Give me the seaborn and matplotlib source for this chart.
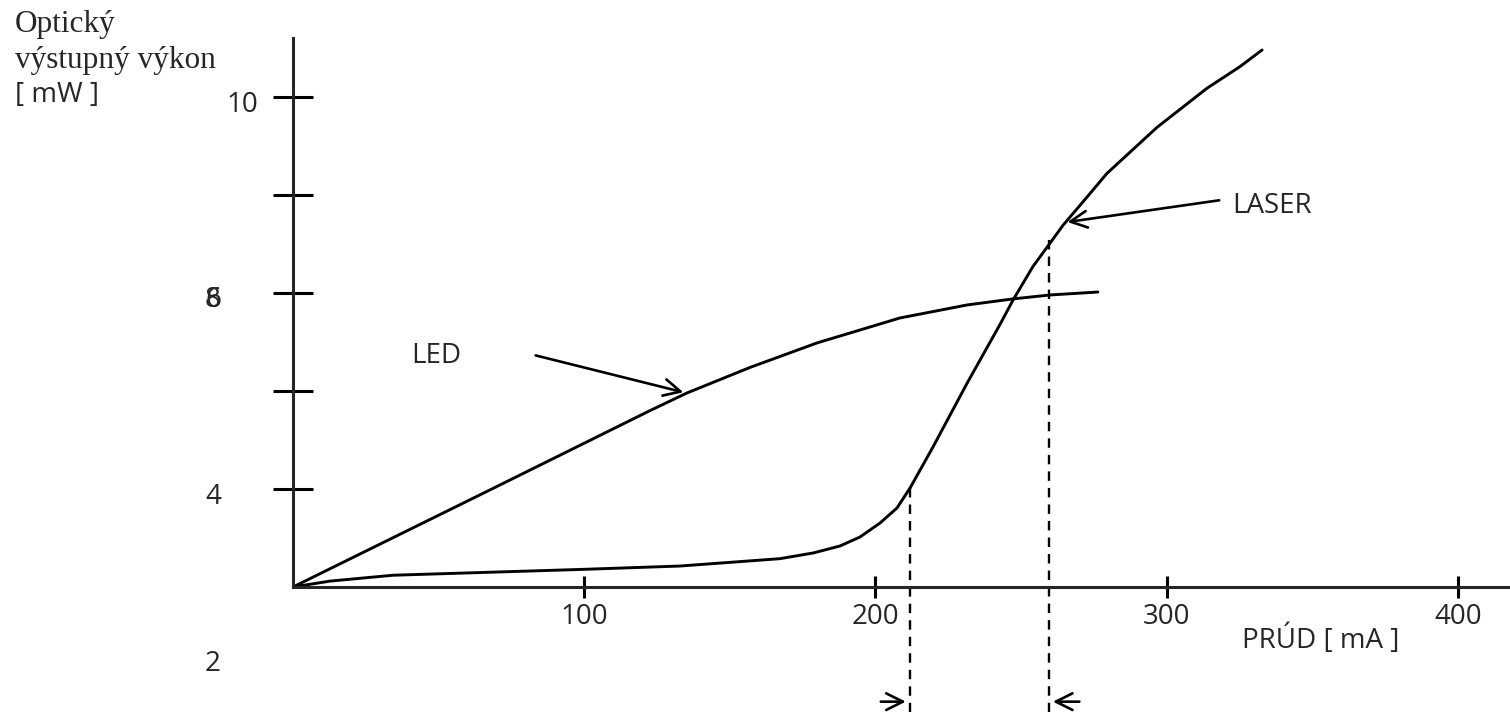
import numpy as np
import pandas as pd
import seaborn as sns
import matplotlib.pyplot as plt

# current [mA] and optical power (in axis tick steps, as drawn)
led_current = [0, 67.6, 122.6, 135.3, 156.9, 179.9, 208.4, 231.5, 247.3, 260, 276.4]
led_power = [0, 0.99, 1.80, 1.98, 2.24, 2.49, 2.745, 2.878, 2.94, 2.98, 3.01]

laser_current = [0, 12.7, 34.3, 99.6, 132.9, 167.2, 178.6, 187.8, 194.7, 201.6, 207.4, 211.9,
                 219.8, 231.5, 242.8, 247.3, 254.1, 260.0, 264.4, 272.7, 279.5,
                 296.7, 313.9, 325.2, 332.8]
laser_power = [0, 0.06, 0.12, 0.18, 0.214, 0.289, 0.347, 0.418, 0.51, 0.653, 0.806, 1.01,
               1.43, 2.08, 2.68, 2.93, 3.27, 3.51, 3.69, 3.98, 4.22,
               4.69, 5.09, 5.31, 5.48]

x_ticks = [100, 200, 300, 400]
y_ticks = [1, 2, 3, 4, 5]
y_labels = [("4", 0.92), ("6", 2.93), ("8", 2.93), ("10", 4.92), ("2", -0.79)]

threshold_lo = 211.9
threshold_hi = 259.5

sns.set_style("white")
plt.rcParams['font.family'] = ['Open Sans', 'DejaVu Sans']

led = pd.DataFrame({'current': led_current, 'power': led_power})
laser = pd.DataFrame({'current': laser_current, 'power': laser_power})

fig = plt.figure(figsize=(15.1, 7.12), dpi=100)
ax = fig.add_axes([293 / 1510, 125 / 712, 1217 / 1510, 549 / 712])

sns.lineplot(data=led, x='current', y='power', color='black', lw=2.1, ax=ax)
sns.lineplot(data=laser, x='current', y='power', color='black', lw=2.1, ax=ax)

ax.set_xlim(0, 1217 / 291.2 * 100)
ax.set_ylim(0, 549 / 98)
sns.despine(ax=ax)
for s in ['left', 'bottom']:
    ax.spines[s].set_linewidth(2.2)

ax.set_xticks(x_ticks)
ax.set_xticklabels([str(t) for t in x_ticks], fontsize=20)
ax.set_yticks(y_ticks)
ax.set_yticklabels([])
ax.tick_params(axis='x', bottom=True, direction='inout', length=16.5, width=2.2, pad=3, color='black')
ax.tick_params(axis='y', left=True, direction='inout', length=29, width=2.2, color='black')
ax.set_xlabel('')
ax.set_ylabel('')

for lab, yv in y_labels:
    if lab == "10":
        ax.text(-12.0, yv, lab, ha='right', va='center', fontsize=20, clip_on=False)
    else:
        ax.text(-27.5, yv, lab, ha='center', va='center', fontsize=20, clip_on=False)

# threshold markers
ybot = -125 / 98
ax.plot([threshold_lo, threshold_lo], [1.01, ybot], ls=(0, (4, 3)), color='black', lw=1.7, clip_on=False)
ax.plot([threshold_hi, threshold_hi], [3.54, ybot], ls=(0, (4, 3)), color='black', lw=1.7, clip_on=False)
arr = dict(arrowstyle='->', color='black', lw=1.9, mutation_scale=30)
ax.annotate('', xy=(threshold_lo - 0.5, -1.17), xytext=(200.9, -1.17), arrowprops=arr, annotation_clip=False)
ax.annotate('', xy=(threshold_hi + 0.5, -1.17), xytext=(271, -1.17), arrowprops=arr, annotation_clip=False)

# curve labels
ax.text(40.5, 2.36, 'LED', fontsize=20, va='center', ha='left')
ax.annotate('', xy=(135, 1.98), xytext=(82.4, 2.37), arrowprops=arr)
ax.text(322.5, 3.89, 'LASER', fontsize=20, va='center', ha='left')
ax.annotate('', xy=(265, 3.72), xytext=(319, 3.95), arrowprops=arr)

ax.text(326, -0.54, 'PRÚD [ mA ]', fontsize=20, va='center', ha='left', clip_on=False)

fig.text(15 / 1510, 1 - 32 / 712, 'Optický', family='Liberation Serif',
         fontsize=22.5, va='baseline', ha='left')
fig.text(15 / 1510, 1 - 68 / 712, 'výstupný výkon', family='Liberation Serif',
         fontsize=22.5, va='baseline', ha='left')
fig.text(15 / 1510, 1 - 102 / 712, '[ mW ]', fontsize=20, va='baseline', ha='left')

fig.savefig('out.png', dpi=100)
